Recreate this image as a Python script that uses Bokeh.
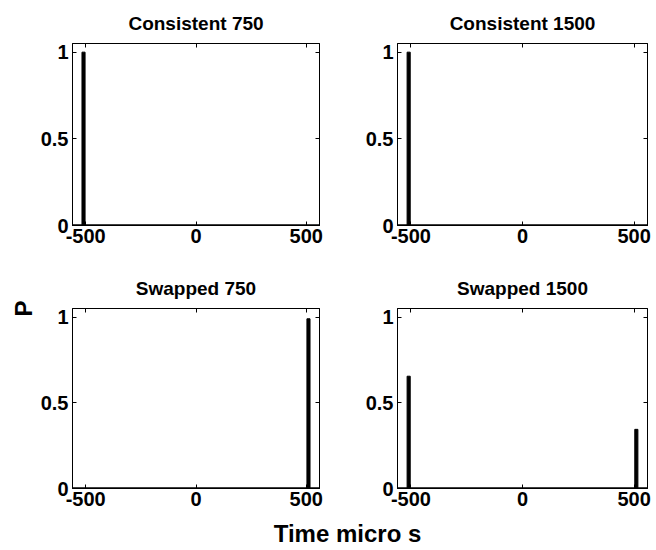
from bokeh.plotting import figure
from bokeh.models import Range1d, Span, Label, FixedTicker, LinearAxis
from bokeh.layouts import column, row
from bokeh.embed import file_html
from bokeh.resources import INLINE
import math

# ---- data ----
titles = ["Consistent 750", "Consistent 1500", "Swapped 750", "Swapped 1500"]
cons750_x = [-510]
cons750_p = [1.0]
cons1500_x = [-510]
cons1500_p = [1.0]
swap750_x = [510]
swap750_p = [0.99]
swap1500_x = [-510, 510]
swap1500_p = [0.655, 0.345]
x_ticks = [-500, 0, 500]
y_ticks = [0, 0.5, 1]
y_tick_labels = ["0", "0.5", "1"]
x_label = "Time micro s"
y_label = "P"

FONT = "Liberation Sans"
LEFT_W = 37  # width of the strip holding the shared y label


def style_axis(ax, ticks, labels, standoff, show_labels=True):
    ax.ticker = FixedTicker(ticks=ticks)
    ax.axis_line_color = "black"
    ax.major_tick_line_color = "black"
    ax.major_tick_in = 4
    ax.major_tick_out = 0
    ax.minor_tick_line_color = None
    ax.major_label_text_font = FONT
    ax.major_label_text_font_style = "bold"
    ax.major_label_text_color = "black"
    if show_labels:
        ax.major_label_text_font_size = "20px"
        ax.major_label_overrides = {t: l for t, l in zip(ticks, labels)}
        ax.major_label_standoff = standoff
    else:
        ax.major_label_text_font_size = "0px"
        ax.major_label_overrides = {t: "" for t in ticks}
        ax.major_label_standoff = 0


def make_fig(title, xs, ps, width, left, top, bottom, height):
    p = figure(width=width, height=height, output_backend="svg", toolbar_location=None,
               x_range=Range1d(-560, 560), y_range=Range1d(0, 1.05),
               min_border_left=left, min_border_right=9,
               min_border_top=top, min_border_bottom=bottom, title=title)
    p.title.text_font = FONT
    p.title.text_font_size = "19px"
    p.title.text_font_style = "bold"
    p.title.text_color = "black"
    p.title.align = "center"
    p.title.standoff = 20
    p.xgrid.visible = False
    p.ygrid.visible = False
    p.outline_line_color = "black"
    p.outline_line_width = 1
    p.outline_line_alpha = 1
    p.background_fill_color = "white"
    p.border_fill_color = "white"
    style_axis(p.xaxis[0], x_ticks, [str(t) for t in x_ticks], 3)
    style_axis(p.yaxis[0], y_ticks, y_tick_labels, 4)
    ra = LinearAxis()
    style_axis(ra, y_ticks, y_tick_labels, 0, show_labels=False)
    p.add_layout(ra, "right")
    ta = LinearAxis()
    style_axis(ta, x_ticks, [], 0, show_labels=False)
    p.add_layout(ta, "above")
    p.vbar(x=xs, top=ps, bottom=0, width=14, color="black", line_color="black")
    p.add_layout(Span(location=0, dimension="width", line_color="black", line_width=2.5))
    return p


f1 = make_fig(titles[0], cons750_x, cons750_p, 328 - LEFT_W, 69 - LEFT_W, 43, 40, 265)
f2 = make_fig(titles[1], cons1500_x, cons1500_p, 328, 69, 43, 40, 265)
f3 = make_fig(titles[2], swap750_x, swap750_p, 328 - LEFT_W, 69 - LEFT_W, 43, 30, 253)
f4 = make_fig(titles[3], swap1500_x, swap1500_p, 328, 69, 43, 30, 253)


def text_panel(width, height):
    f = figure(width=width, height=height, output_backend="svg", toolbar_location=None,
               x_range=Range1d(0, width), y_range=Range1d(0, height), min_border=0)
    f.title.visible = False
    f.axis.visible = False
    f.grid.visible = False
    f.outline_line_color = None
    return f


# full-height strip on the left holding the shared y label
fP = text_panel(LEFT_W, 550)
fP.add_layout(Label(x=22.5, y=550 - 308, text=y_label, angle=math.pi / 2,
                    text_align="center", text_baseline="middle",
                    text_font=FONT, text_font_size="24px", text_font_style="bold",
                    text_color="black"))

# strip holding the shared x label
f5 = text_panel(656 - LEFT_W, 32)
f5.add_layout(Label(x=347 - LEFT_W, y=17, text=x_label, text_align="center",
                    text_baseline="middle", text_font=FONT,
                    text_font_size="24px", text_font_style="bold",
                    text_color="black"))

layout = row(fP, column(row(f1, f2), row(f3, f4), f5))
open("out.html", "w").write(file_html(layout, INLINE))
